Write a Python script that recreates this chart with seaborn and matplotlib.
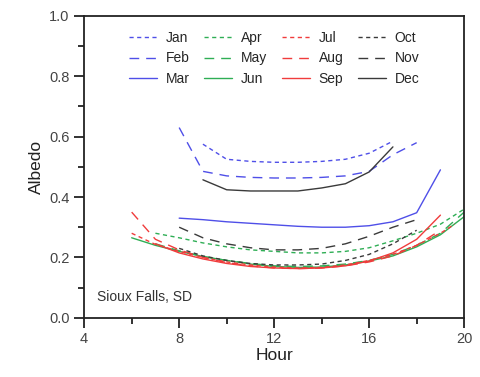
import matplotlib
matplotlib.use("Agg")
import matplotlib.pyplot as plt
import seaborn as sns
import pandas as pd
from matplotlib.ticker import MultipleLocator

months = ["Jan", "Feb", "Mar", "Apr", "May", "Jun",
          "Jul", "Aug", "Sep", "Oct", "Nov", "Dec"]

hours_jan = [9, 10, 11, 12, 13, 14, 15, 16, 17]
alb_jan = [0.575, 0.525, 0.518, 0.515, 0.515, 0.518, 0.525, 0.545, 0.585]

hours_feb = [8, 9, 10, 11, 12, 13, 14, 15, 16, 17, 18]
alb_feb = [0.63, 0.485, 0.47, 0.465, 0.463, 0.463, 0.465, 0.47, 0.485, 0.54, 0.58]

hours_mar = [8, 9, 10, 11, 12, 13, 14, 15, 16, 17, 18, 19]
alb_mar = [0.33, 0.325, 0.318, 0.313, 0.308, 0.303, 0.30, 0.30, 0.305, 0.318, 0.348, 0.49]

hours_apr = [7, 8, 9, 10, 11, 12, 13, 14, 15, 16, 17, 18, 19, 20]
alb_apr = [0.28, 0.265, 0.248, 0.235, 0.225, 0.22, 0.215, 0.215, 0.22, 0.232, 0.255, 0.28, 0.31, 0.36]

hours_may = [7, 8, 9, 10, 11, 12, 13, 14, 15, 16, 17, 18, 19, 20]
alb_may = [0.245, 0.222, 0.203, 0.19, 0.18, 0.172, 0.17, 0.172, 0.178, 0.19, 0.21, 0.24, 0.28, 0.35]

hours_jun = [6, 7, 8, 9, 10, 11, 12, 13, 14, 15, 16, 17, 18, 19, 20]
alb_jun = [0.265, 0.24, 0.22, 0.203, 0.19, 0.178, 0.17, 0.167, 0.168, 0.175, 0.188, 0.205, 0.235, 0.275, 0.335]

hours_jul = [6, 7, 8, 9, 10, 11, 12, 13, 14, 15, 16, 17, 18, 19, 19.6]
alb_jul = [0.28, 0.243, 0.22, 0.2, 0.185, 0.175, 0.168, 0.165, 0.167, 0.175, 0.19, 0.21, 0.24, 0.28, 0.31]

hours_aug = [6, 7, 8, 9, 10, 11, 12, 13, 14, 15, 16, 17, 18, 19]
alb_aug = [0.35, 0.26, 0.225, 0.2, 0.183, 0.172, 0.165, 0.163, 0.165, 0.172, 0.185, 0.205, 0.24, 0.29]

hours_sep = [7, 8, 9, 10, 11, 12, 13, 14, 15, 16, 17, 18, 19]
alb_sep = [0.245, 0.215, 0.195, 0.18, 0.17, 0.165, 0.163, 0.165, 0.172, 0.188, 0.215, 0.26, 0.34]

hours_oct = [8, 9, 10, 11, 12, 13, 14, 15, 16, 17, 18]
alb_oct = [0.23, 0.205, 0.19, 0.18, 0.175, 0.175, 0.178, 0.19, 0.21, 0.245, 0.29]

hours_nov = [8, 9, 10, 11, 12, 13, 14, 15, 16, 17, 18]
alb_nov = [0.30, 0.265, 0.245, 0.232, 0.225, 0.225, 0.23, 0.245, 0.27, 0.30, 0.325]

hours_dec = [9, 10, 11, 12, 13, 14, 15, 16, 17]
alb_dec = [0.457, 0.424, 0.42, 0.42, 0.42, 0.43, 0.444, 0.483, 0.566]

series = {
    "Jan": (hours_jan, alb_jan), "Feb": (hours_feb, alb_feb), "Mar": (hours_mar, alb_mar),
    "Apr": (hours_apr, alb_apr), "May": (hours_may, alb_may), "Jun": (hours_jun, alb_jun),
    "Jul": (hours_jul, alb_jul), "Aug": (hours_aug, alb_aug), "Sep": (hours_sep, alb_sep),
    "Oct": (hours_oct, alb_oct), "Nov": (hours_nov, alb_nov), "Dec": (hours_dec, alb_dec),
}

rows = []
for m in months:
    hs, vs = series[m]
    for h, v in zip(hs, vs):
        rows.append({"Month": m, "Hour": h, "Albedo": v})
df = pd.DataFrame(rows)

blue, green, red, dark = "#4f4fe8", "#2fae55", "#f03c3c", "#3a3a3a"
palette = {"Jan": blue, "Feb": blue, "Mar": blue,
           "Apr": green, "May": green, "Jun": green,
           "Jul": red, "Aug": red, "Sep": red,
           "Oct": dark, "Nov": dark, "Dec": dark}
short, long_, solid = (3, 2.5), (7, 5), ""
dashes = {"Jan": short, "Feb": long_, "Mar": solid,
          "Apr": short, "May": long_, "Jun": solid,
          "Jul": short, "Aug": long_, "Sep": solid,
          "Oct": short, "Nov": long_, "Dec": solid}

sns.set_style("ticks")
plt.rcParams["font.family"] = ["Liberation Sans", "DejaVu Sans"]

fig = plt.figure(figsize=(4.81, 3.77), dpi=100)
ax = fig.add_axes([0.175, 0.157, 0.79, 0.801])

sns.lineplot(data=df, x="Hour", y="Albedo", hue="Month", style="Month",
             hue_order=months, style_order=months, palette=palette,
             dashes=dashes, sort=False, linewidth=1.0, ax=ax, legend=True)

ax.set_xlim(4, 20)
ax.set_ylim(0, 1.0)
ax.xaxis.set_major_locator(MultipleLocator(4))
ax.xaxis.set_minor_locator(MultipleLocator(2))
ax.yaxis.set_major_locator(MultipleLocator(0.2))
ax.yaxis.set_minor_locator(MultipleLocator(0.1))
ax.yaxis.set_major_formatter(matplotlib.ticker.FormatStrFormatter("%.1f"))
ax.tick_params(which="major", direction="out", length=7, width=1.3,
               labelsize=10.5, labelcolor="#444444", color="#222222")
ax.tick_params(which="minor", direction="out", length=4, width=1.3, color="#222222")
for s in ax.spines.values():
    s.set_visible(True)
    s.set_linewidth(1.3)
    s.set_color("#222222")

ax.set_xlabel("Hour", fontsize=12.5, color="#222222", labelpad=1)
ax.set_ylabel("Albedo", fontsize=12.5, color="#222222", labelpad=4)

ax.text(0.033, 0.055, "Sioux Falls, SD", transform=ax.transAxes,
        fontsize=10, color="#333333")

handles, labels = ax.get_legend_handles_labels()
ax.legend(handles, labels, ncol=4, loc="upper center", bbox_to_anchor=(0.5, 1.0),
          frameon=False, fontsize=10, handlelength=2.0, handletextpad=0.65,
          columnspacing=1.05, labelspacing=0.45, borderaxespad=0.7)

fig.savefig("out.png", dpi=100)
